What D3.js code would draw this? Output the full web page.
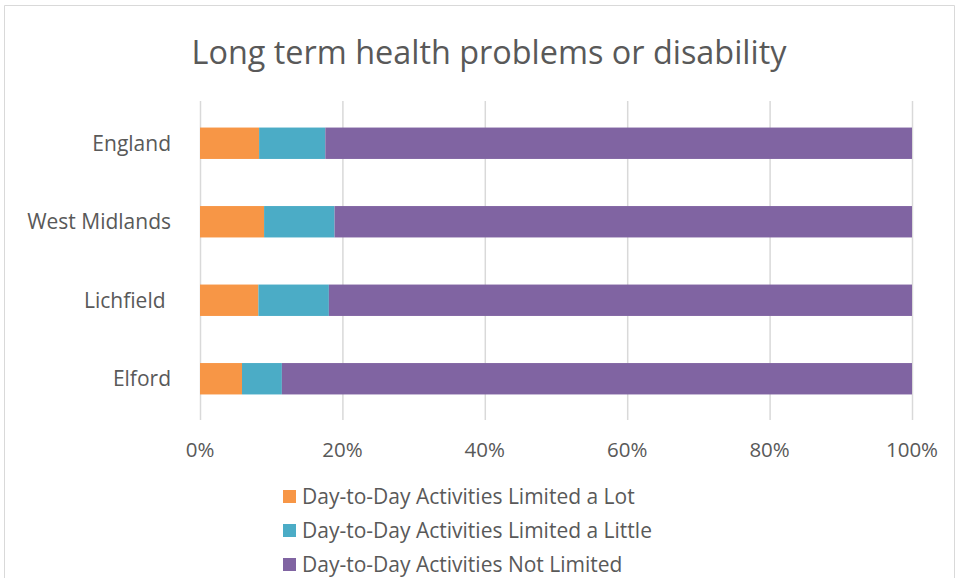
<!DOCTYPE html>
<html><head><meta charset="utf-8">
<script src="https://cdn.jsdelivr.net/npm/d3@7"></script>
<style>body{margin:0;background:#fff}svg{display:block}text{font-family:"Open Sans",sans-serif;fill:#595959;white-space:pre}</style>
</head><body>
<script>
const categories = ["England", "West Midlands", "Lichfield ", "Elford"];
const seriesNames = ["Day-to-Day Activities Limited a Lot", "Day-to-Day Activities Limited a Little", "Day-to-Day Activities Not Limited"];
const limitedLot = [8.3, 9.0, 8.2, 5.9];
const limitedLittle = [9.3, 9.9, 9.9, 5.6];
const notLimited = [82.4, 81.1, 81.9, 88.5];
const tickLabels = ["0%", "20%", "40%", "60%", "80%", "100%"];
const colors = ["#F79646", "#4BACC6", "#8064A2"];

const W = 959, H = 578;
const svg = d3.select("body").append("svg").attr("width", W).attr("height", H);
svg.append("path").attr("d", `M4.5,${H}V5.5H954.5V${H}`).attr("fill","none").attr("stroke","#d9d9d9");

svg.append("text").attr("x", 489).attr("y", 64).attr("text-anchor","middle")
  .style("font-size","32.4px").text("Long term health problems or disability");

const x = d3.scaleLinear().domain([0,100]).range([200, 912]);
const y = d3.scaleBand().domain(categories).range([104, 418]).paddingInner(0.6).paddingOuter(0.3);

// gridlines
svg.append("g").selectAll("line").data(d3.range(0,101,20)).join("line")
  .attr("x1", d=>x(d)+0.5).attr("x2", d=>x(d)+0.5).attr("y1", 101).attr("y2", 420)
  .attr("stroke","#d9d9d9").attr("stroke-width",1.5);

const stackData = categories.map((c,i)=>({cat:c, a:limitedLot[i], b:limitedLittle[i], c:notLimited[i]}));
const stack = d3.stack().keys(["a","b","c"])(stackData);
svg.append("g").selectAll("g").data(stack).join("g").attr("fill",(d,i)=>colors[i])
  .selectAll("rect").data(d=>d).join("rect")
  .attr("x", d=>x(d[0])).attr("width", d=>x(d[1])-x(d[0]))
  .attr("y", d=>y(d.data.cat)).attr("height", y.bandwidth());

// category labels
svg.append("g").selectAll("text").data(categories).join("text")
  .attr("x", 171).attr("y", d=>y(d)+y.bandwidth()/2).attr("dy","0.35em")
  .attr("text-anchor","end").style("font-size","21px").text(d=>d);

// x tick labels
svg.append("g").selectAll("text").data(tickLabels).join("text")
  .attr("x", (d,i)=>x(i*20)).attr("y", 457).attr("text-anchor","middle")
  .style("font-size","20.5px").text(d=>d);

// legend
const lg = svg.append("g").selectAll("g").data(seriesNames).join("g")
  .attr("transform",(d,i)=>`translate(283,${497+i*34})`);
lg.append("rect").attr("x",0).attr("y",-7).attr("width",13).attr("height",13).attr("fill",(d,i)=>colors[i]);
lg.append("text").attr("x",19).attr("y",0).attr("dy","0.35em").style("font-size","21px").text(d=>d);
</script>
</body></html>
